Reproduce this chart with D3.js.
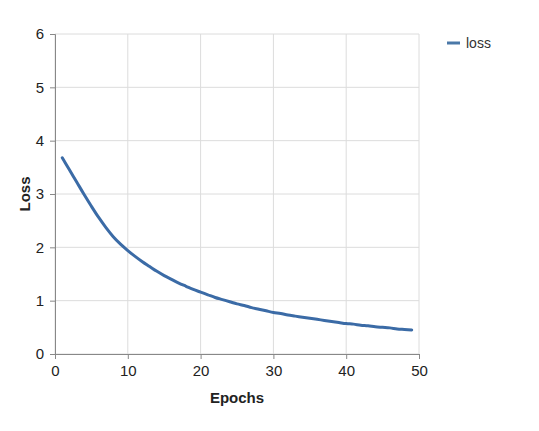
<!DOCTYPE html>
<html><head><meta charset="utf-8">
<script src="https://cdn.jsdelivr.net/npm/d3@7"></script>
<style>body{margin:0;background:#fff;}svg{display:block;font-family:"Liberation Sans",Arial,sans-serif;}</style>
</head><body>
<svg id="c" width="539" height="431"></svg>
<script>
const epochs = [1,2,3,4,5,6,7,8,9,10,11,12,13,14,15,16,17,18,19,20,21,22,23,24,25,26,27,28,29,30,31,32,33,34,35,36,37,38,39,40,41,42,43,44,45,46,47,48,49];
const loss = [3.68,3.45,3.22,2.99,2.77,2.56,2.37,2.20,2.06,1.94,1.83,1.73,1.64,1.55,1.47,1.40,1.33,1.27,1.21,1.16,1.11,1.06,1.02,0.98,0.94,0.91,0.87,0.84,0.81,0.78,0.76,0.73,0.71,0.69,0.67,0.65,0.63,0.61,0.59,0.57,0.56,0.54,0.53,0.51,0.50,0.49,0.47,0.46,0.45];
const xTicks = [0,10,20,30,40,50];
const yTicks = [0,1,2,3,4,5,6];
const seriesName = "loss";

const svg = d3.select("#c");
const m = {l:55, r:419, t:34, b:354};
const x = d3.scaleLinear().domain([0,50]).range([m.l, m.r]);
const y = d3.scaleLinear().domain([0,6]).range([m.b, m.t]);

// grid
svg.append("g").selectAll("line").data(xTicks).join("line")
  .attr("x1", d=>x(d)).attr("x2", d=>x(d)).attr("y1", m.t).attr("y2", m.b)
  .attr("stroke", "#dcdcdc").attr("stroke-width", 1);
svg.append("g").selectAll("line").data(yTicks).join("line")
  .attr("x1", m.l).attr("x2", m.r).attr("y1", d=>y(d)).attr("y2", d=>y(d))
  .attr("stroke", "#dcdcdc").attr("stroke-width", 1);

// axes
const xa = svg.append("g").attr("transform", `translate(0,${m.b})`)
  .call(d3.axisBottom(x).tickValues(xTicks).tickFormat(d3.format("d")).tickSize(5).tickPadding(6));
const ya = svg.append("g").attr("transform", `translate(${m.l},0)`)
  .call(d3.axisLeft(y).tickValues(yTicks).tickFormat(d3.format("d")).tickSize(5).tickPadding(6));
[xa, ya].forEach(a => {
  a.select(".domain").attr("stroke", "#888");
  a.selectAll(".tick line").attr("stroke", "#888");
  a.selectAll("text").attr("font-size", 15).attr("fill", "#222")
    .attr("font-family", '"Liberation Sans",Arial,sans-serif');
});

// titles
svg.append("text").attr("x", (m.l+m.r)/2).attr("y", 403).attr("text-anchor","middle")
  .attr("font-size", 15).attr("font-weight","bold").attr("fill","#222").text("Epochs");
svg.append("text").attr("transform", `translate(30,${(m.t+m.b)/2}) rotate(-90)`)
  .attr("text-anchor","middle").attr("font-size", 15).attr("font-weight","bold").attr("fill","#222").text("Loss");

// line
const line = d3.line().x((d,i)=>x(epochs[i])).y(d=>y(d)).curve(d3.curveMonotoneX);
svg.append("path").datum(loss).attr("d", line).attr("fill","none")
  .attr("stroke", "#3b6ba6").attr("stroke-width", 3).attr("stroke-linecap","round");

// legend
const lg = svg.append("g").attr("transform","translate(447,43)");
lg.append("line").attr("x1",0).attr("x2",13).attr("stroke","#4a78a8").attr("stroke-width",3);
lg.append("text").attr("x",19).attr("y",5).attr("font-size",14).attr("fill","#333").text(seriesName);
</script>
</body></html>
